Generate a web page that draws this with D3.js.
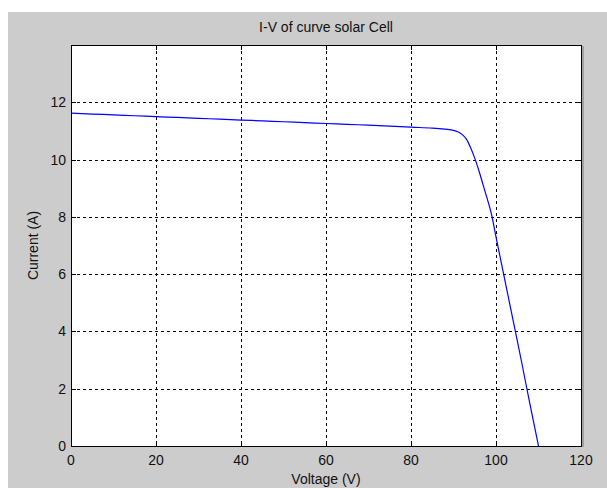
<!DOCTYPE html>
<html><head><meta charset="utf-8">
<script src="https://cdn.jsdelivr.net/npm/d3@7"></script>
<style>body{margin:0;background:#fff}svg{display:block}text{font-family:"Liberation Sans",Arial,sans-serif;fill:#111}</style>
</head><body>
<script>
const voltage = [0,5,10,15,20,25,30,35,40,45,50,55,60,65,70,75,80,85,88,90,91,92,93,94,95,96,97,98,99,100,102,104,106,108,110];
const current = [11.62,11.59,11.56,11.53,11.5,11.47,11.44,11.41,11.38,11.35,11.32,11.29,11.26,11.23,11.2,11.17,11.13,11.1,11.06,11.02,10.97,10.88,10.72,10.42,10.05,9.6,9.1,8.6,8.05,7.3,5.85,4.4,2.95,1.45,0];
const xTicks = [0,20,40,60,80,100,120];
const yTicks = [0,2,4,6,8,10,12];
const title = "I-V of curve solar Cell", xLabel = "Voltage (V)", yLabel = "Current (A)";

const W=607,H=488;
const L=71,R=581,T=45,B=446;
const svg=d3.select("body").append("svg").attr("width",W).attr("height",H);
svg.append("rect").attr("x",8).attr("y",12).attr("width",W-8).attr("height",H-12).attr("fill","#cccccc");
const x=d3.scaleLinear().domain([0,120]).range([L,R]);
const y=d3.scaleLinear().domain([0,14]).range([B,T]);
svg.append("rect").attr("x",L).attr("y",T).attr("width",R-L).attr("height",B-T).attr("fill","#fff");
// grid
const g=svg.append("g");
g.selectAll(".vg").data(xTicks.slice(1,-1)).enter().append("line")
 .attr("x1",d=>x(d)+0.5).attr("x2",d=>x(d)+0.5).attr("y1",T).attr("y2",B)
 .attr("stroke","#000").attr("stroke-dasharray","3,3");
g.selectAll(".hg").data(yTicks).enter().append("line")
 .attr("y1",d=>Math.round(y(d))+0.5).attr("y2",d=>Math.round(y(d))+0.5).attr("x1",L).attr("x2",R)
 .attr("stroke","#000").attr("stroke-dasharray","3,3");
// inward ticks
const tl=5;
xTicks.forEach(d=>{
 g.append("line").attr("x1",x(d)+0.5).attr("x2",x(d)+0.5).attr("y1",B).attr("y2",B-tl).attr("stroke","#000");
 g.append("line").attr("x1",x(d)+0.5).attr("x2",x(d)+0.5).attr("y1",T).attr("y2",T+tl).attr("stroke","#000");
});
yTicks.forEach(d=>{
 const yy=Math.round(y(d))+0.5;
 g.append("line").attr("x1",L).attr("x2",L+tl).attr("y1",yy).attr("y2",yy).attr("stroke","#000");
 g.append("line").attr("x1",R).attr("x2",R-tl).attr("y1",yy).attr("y2",yy).attr("stroke","#000");
});
// curve
const pts=voltage.map((v,i)=>[v,current[i]]);
svg.append("path").datum(pts).attr("fill","none").attr("stroke","#0000ff").attr("stroke-width",1.2)
 .attr("d",d3.line().x(d=>x(d[0])).y(d=>y(d[1])).curve(d3.curveMonotoneX));
// box
svg.append("rect").attr("x",L+0.5).attr("y",T+0.5).attr("width",R-L).attr("height",B-T)
 .attr("fill","none").attr("stroke","#000");
svg.append("line").attr("x1",R+2).attr("x2",R+2).attr("y1",T+1).attr("y2",B+1).attr("stroke","#777").attr("stroke-width",1);
// tick labels
svg.selectAll(".xl").data(xTicks).enter().append("text")
 .attr("x",d=>x(d)).attr("y",B+19).attr("text-anchor","middle").attr("font-size",14).text(d=>d);
svg.selectAll(".yl").data(yTicks).enter().append("text")
 .attr("x",L-5).attr("y",d=>y(d)+5).attr("text-anchor","end").attr("font-size",14).text(d=>d);
svg.append("text").attr("x",(L+R)/2).attr("y",32).attr("text-anchor","middle").attr("font-size",14).text(title);
svg.append("text").attr("x",(L+R)/2).attr("y",484).attr("text-anchor","middle").attr("font-size",14).text(xLabel);
svg.append("text").attr("transform",`translate(38,${(T+B)/2}) rotate(-90)`).attr("text-anchor","middle").attr("font-size",14).text(yLabel);
</script>
</body></html>
